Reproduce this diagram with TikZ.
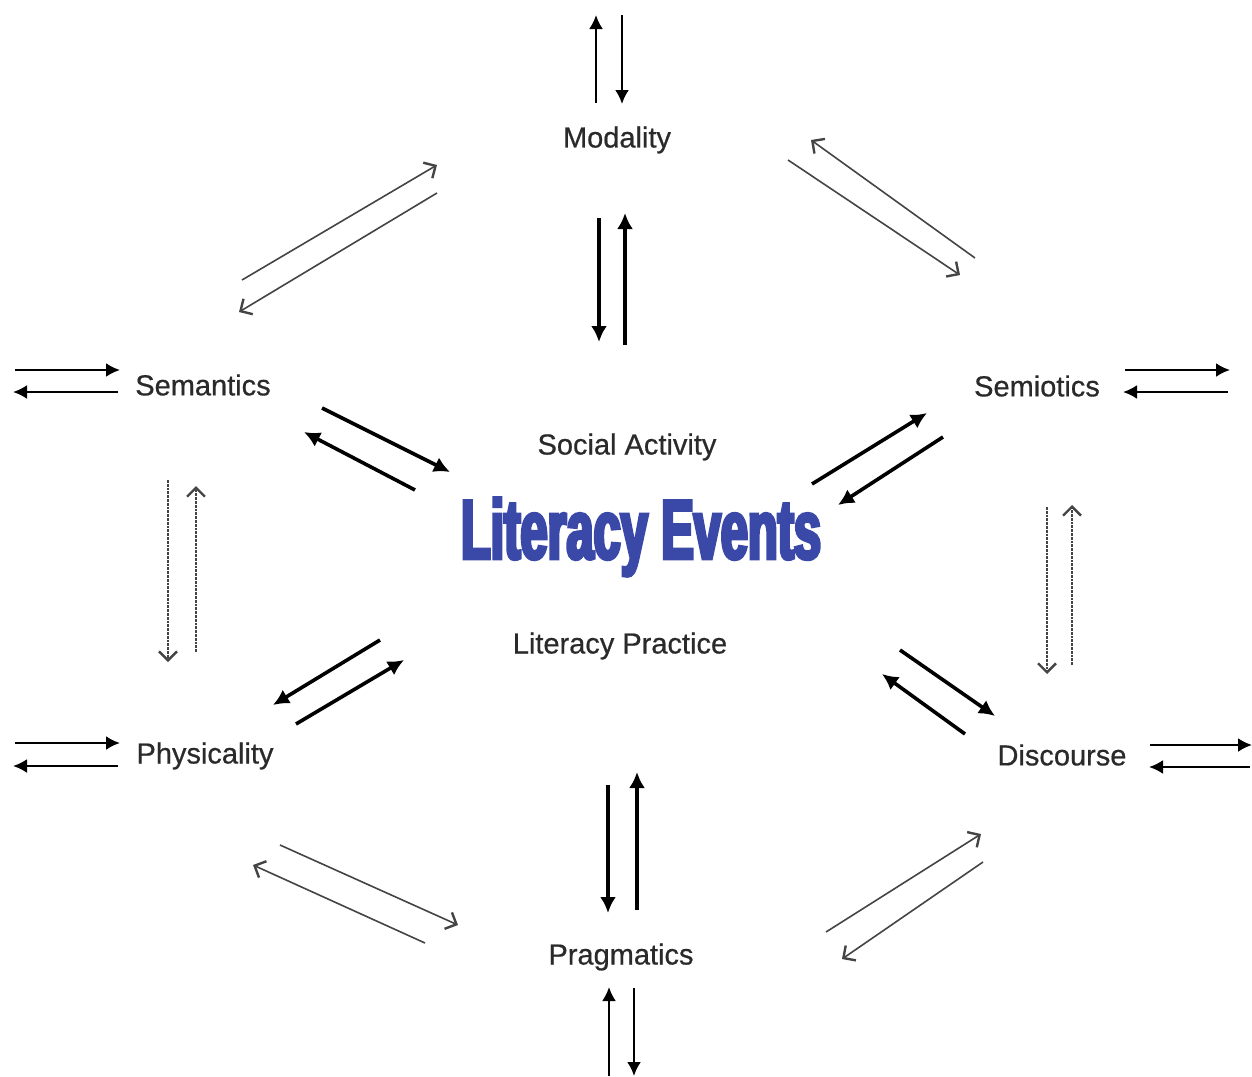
\documentclass[tikz,border=0pt]{standalone}
\usepackage{fontspec}
\setmainfont{Liberation Sans}
\newfontfamily\titlefont[FakeStretch=0.58,FakeBold=4]{Liberation Sans Bold}
\newfontfamily\labelfont[FakeBold=0.6]{Liberation Sans}
\usetikzlibrary{arrows.meta}
\definecolor{titleblue}{HTML}{3A48A8}
\definecolor{ink}{HTML}{2A2A2A}
\definecolor{faint}{HTML}{444444}
\tikzset{
  lbl/.style={text=ink, font=\labelfont\fontsize{14.5}{16}\selectfont, inner sep=0pt},
  fatarrow/.style={line width=1.8pt, draw=black, -{Latex[length=8pt,width=8pt]}},
  midarrow/.style={line width=1.2pt, draw=black, -{Latex[length=7pt,width=7pt]}},
  thinarrow/.style={line width=0.8pt, draw=faint, -{Straight Barb[length=4.5pt,width=9pt,line width=1.2pt]}},
  dotarrow/.style={line width=0.9pt, draw=faint, dash pattern=on 1.4pt off 0.5pt, -{Straight Barb[length=4.5pt,width=9pt,line width=1.2pt,sep=0pt]}},
}
\begin{document}
\begin{tikzpicture}[x=0.5pt,y=-0.5pt]
\useasboundingbox (0,0) rectangle (1252,1076);

% labels
\node[lbl] (mod)  at (617,140) {Modality};
\node[lbl] (sem)  at (203,385) {Semantics};
\node[lbl] (semi) at (1037,386) {Semiotics};
\node[lbl] (soc)  at (627,447) {Social Activity};
\node[text=titleblue, inner sep=0pt, font=\titlefont\fontsize{42}{44}\selectfont] (lit) at (641,537) {Literacy Events};
\node[lbl] (prac) at (620,646) {Literacy Practice};
\node[lbl] (phy)  at (205,756) {Physicality};
\node[lbl] (dis)  at (1062,755) {Discourse};
\node[lbl] (prag) at (621,957) {Pragmatics};

% endpoints of the arrow pairs
\coordinate (mTa) at (596,103); \coordinate (mTb) at (596,15);
\coordinate (mTc) at (622,15);  \coordinate (mTd) at (622,104);
\coordinate (mCa) at (599,218); \coordinate (mCb) at (599,342);
\coordinate (mCc) at (625,345); \coordinate (mCd) at (625,213);

\coordinate (sLa) at (15,370);  \coordinate (sLb) at (120,370);
\coordinate (sLc) at (118,392); \coordinate (sLd) at (13,392);
\coordinate (tRa) at (1125,370); \coordinate (tRb) at (1230,370);
\coordinate (tRc) at (1228,392); \coordinate (tRd) at (1123,392);
\coordinate (pLa) at (15,743);  \coordinate (pLb) at (120,743);
\coordinate (pLc) at (118,766); \coordinate (pLd) at (13,766);
\coordinate (dRa) at (1150,745); \coordinate (dRb) at (1252,745);
\coordinate (dRc) at (1250,767); \coordinate (dRd) at (1149,767);

\coordinate (gBa) at (609,1076); \coordinate (gBb) at (609,987);
\coordinate (gBc) at (634,988);  \coordinate (gBd) at (634,1076);
\coordinate (gCa) at (608,785);  \coordinate (gCb) at (608,913);
\coordinate (gCc) at (637,910);  \coordinate (gCd) at (637,772);

\coordinate (sCa) at (322,408); \coordinate (sCb) at (450,472);
\coordinate (sCc) at (415,490); \coordinate (sCd) at (304,432);
\coordinate (tCa) at (812,484); \coordinate (tCb) at (927,413);
\coordinate (tCc) at (943,437); \coordinate (tCd) at (838,505);
\coordinate (pCa) at (380,640); \coordinate (pCb) at (273,705);
\coordinate (pCc) at (296,724); \coordinate (pCd) at (404,660);
\coordinate (dCa) at (900,650); \coordinate (dCb) at (995,716);
\coordinate (dCc) at (965,734); \coordinate (dCd) at (882,674);

\coordinate (smA) at (242,280); \coordinate (smB) at (437,165);
\coordinate (smC) at (437,193); \coordinate (smD) at (239,312);
\coordinate (mtA) at (788,160); \coordinate (mtB) at (960,275);
\coordinate (mtC) at (975,258); \coordinate (mtD) at (811,140);
\coordinate (ppA) at (280,845); \coordinate (ppB) at (458,925);
\coordinate (ppC) at (425,943); \coordinate (ppD) at (253,865);
\coordinate (pdA) at (826,932); \coordinate (pdB) at (981,834);
\coordinate (pdC) at (983,862); \coordinate (pdD) at (842,959);

\coordinate (vLa) at (168,480); \coordinate (vLb) at (168,662);
\coordinate (vLc) at (196,652); \coordinate (vLd) at (196,486);
\coordinate (vRa) at (1047,507); \coordinate (vRb) at (1047,674);
\coordinate (vRc) at (1072,665); \coordinate (vRd) at (1072,505);

% outer pairs
\draw[midarrow] (mTa) -- (mTb);
\draw[midarrow] (mTc) -- (mTd);
\draw[midarrow] (sLa) -- (sLb);
\draw[midarrow] (sLc) -- (sLd);
\draw[midarrow] (tRa) -- (tRb);
\draw[midarrow] (tRc) -- (tRd);
\draw[midarrow] (pLa) -- (pLb);
\draw[midarrow] (pLc) -- (pLd);
\draw[midarrow] (dRa) -- (dRb);
\draw[midarrow] (dRc) -- (dRd);
\draw[midarrow] (gBa) -- (gBb);
\draw[midarrow] (gBc) -- (gBd);

% pairs towards the centre
\draw[fatarrow] (mCa) -- (mCb);
\draw[fatarrow] (mCc) -- (mCd);
\draw[fatarrow] (gCa) -- (gCb);
\draw[fatarrow] (gCc) -- (gCd);
\draw[fatarrow] (sCa) -- (sCb);
\draw[fatarrow] (sCc) -- (sCd);
\draw[fatarrow] (tCa) -- (tCb);
\draw[fatarrow] (tCc) -- (tCd);
\draw[fatarrow] (pCa) -- (pCb);
\draw[fatarrow] (pCc) -- (pCd);
\draw[fatarrow] (dCa) -- (dCb);
\draw[fatarrow] (dCc) -- (dCd);

% ring between neighbouring labels
\draw[thinarrow] (smA) -- (smB);
\draw[thinarrow] (smC) -- (smD);
\draw[thinarrow] (mtA) -- (mtB);
\draw[thinarrow] (mtC) -- (mtD);
\draw[thinarrow] (ppA) -- (ppB);
\draw[thinarrow] (ppC) -- (ppD);
\draw[thinarrow] (pdA) -- (pdB);
\draw[thinarrow] (pdC) -- (pdD);
\draw[dotarrow] (vLa) -- (vLb);
\draw[dotarrow] (vLc) -- (vLd);
\draw[dotarrow] (vRa) -- (vRb);
\draw[dotarrow] (vRc) -- (vRd);
\end{tikzpicture}
\end{document}
